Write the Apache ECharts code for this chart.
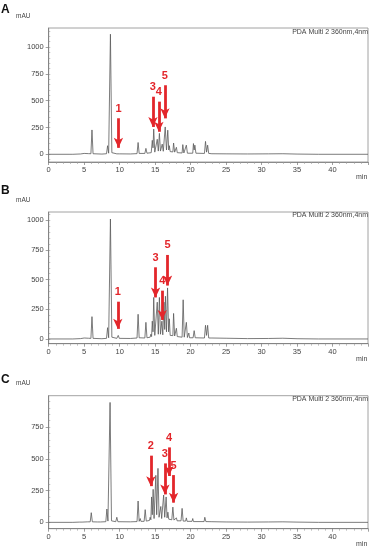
<!DOCTYPE html>
<html>
<head>
<meta charset="utf-8">
<script src="https://cdn.jsdelivr.net/npm/echarts@6/dist/echarts.min.js"></script>
<style>html,body{margin:0;padding:0;background:#fff}#chart{width:374px;height:550px}</style>
</head>
<body>
<div id="chart"></div>
<script>
// ---- data: chromatogram traces [time (min), signal (mAU)] ----
const traceA = [[0,0],[3.0,0],[3.2,10],[3.4,0],[4.5,3],[5.0,8],[5.6,6],[5.95,5],[6.1,227],[6.25,5],[7.5,2],[8.15,5],[8.3,80],[8.45,10],[8.55,15],[8.7,1120],[8.9,15],[9.6,4],[9.8,20],[9.95,4],[11.5,3],[12.45,6],[12.6,110],[12.75,8],[13.55,8],[13.7,55],[13.85,10],[14.45,15],[14.6,130],[14.7,60],[14.8,235],[14.95,20],[15.2,25],[15.3,140],[15.45,30],[15.6,195],[15.75,30],[15.9,28],[16.0,95],[16.15,28],[16.3,30],[16.42,255],[16.6,40],[16.78,225],[16.92,40],[17.0,80],[17.12,25],[17.5,22],[17.6,105],[17.75,20],[17.9,20],[18.0,65],[18.12,15],[18.8,12],[18.9,90],[19.05,12],[19.3,12],[19.4,85],[19.55,10],[20.3,10],[20.4,100],[20.5,40],[20.6,85],[20.75,10],[21.95,8],[22.1,120],[22.25,20],[22.4,85],[22.55,8],[23,5],[25,4],[28,3],[31,4],[33,5],[35,2],[38,0],[45,0]];
const traceB = [[0,0],[3.0,0],[3.2,8],[3.4,0],[4.5,3],[5.0,8],[5.6,6],[5.95,5],[6.1,188],[6.25,5],[7.5,2],[8.15,5],[8.3,95],[8.45,10],[8.55,15],[8.7,1011],[8.9,15],[9.6,5],[9.8,30],[9.95,5],[11.5,4],[12.45,8],[12.6,208],[12.75,10],[12.9,20],[13.0,8],[13.55,8],[13.7,140],[13.85,10],[14.3,15],[14.4,40],[14.5,20],[14.6,150],[14.7,60],[14.8,350],[14.95,30],[15.2,30],[15.3,310],[15.45,40],[15.6,350],[15.75,40],[15.85,40],[15.95,150],[16.08,35],[16.15,40],[16.25,310],[16.35,80],[16.45,360],[16.6,60],[16.75,430],[16.9,60],[17.0,170],[17.12,30],[17.5,28],[17.6,215],[17.75,25],[17.9,25],[18.0,90],[18.12,20],[18.8,15],[18.95,330],[19.1,15],[19.3,15],[19.4,140],[19.55,12],[19.65,12],[19.75,50],[19.85,10],[20.35,10],[20.5,70],[20.65,10],[21.95,8],[22.1,115],[22.25,30],[22.4,115],[22.55,8],[23,8],[25,6],[28,3],[31,4],[33,6],[35,2],[38,0],[45,0]];
const traceC = [[0,0],[3.0,0],[3.2,10],[3.4,0],[4.3,2],[4.5,8],[4.7,2],[5.5,4],[5.85,4],[6.0,76],[6.15,4],[6.9,3],[7.1,10],[7.3,3],[8.05,5],[8.2,105],[8.35,10],[8.5,15],[8.65,944],[8.85,12],[9.45,5],[9.6,40],[9.75,5],[11.5,4],[12.45,6],[12.6,168],[12.75,8],[12.9,30],[13.0,8],[13.45,8],[13.6,100],[13.75,10],[14.2,15],[14.3,40],[14.4,20],[14.5,200],[14.6,60],[14.72,260],[14.85,30],[14.95,35],[15.1,370],[15.22,60],[15.4,425],[15.55,40],[15.7,40],[15.8,125],[15.92,30],[16.05,35],[16.2,215],[16.35,40],[16.55,200],[16.68,35],[16.8,80],[16.92,25],[17.35,20],[17.5,120],[17.65,18],[17.9,15],[18.0,35],[18.1,12],[18.65,12],[18.8,110],[18.95,10],[19.3,10],[19.4,35],[19.5,8],[20.2,8],[20.3,30],[20.4,6],[21.9,6],[22.0,40],[22.15,6],[23,5],[25,3],[28,2],[31,3],[33,4],[35,2],[38,0],[45,0]];

// ---- arrows: time, start value (top), tip value, label ----
const arrowsA_t = [9.83, 14.69, 15.53, 16.38];
const arrowsA_top = [336, 537, 491, 644];
const arrowsA_tip = [60, 255, 210, 335];
const arrowsA_lbl = ['1', '3', '4', '5'];

const arrowsB_t = [9.74, 15.06, 16.0, 16.75];
const arrowsB_top = [314, 604, 407, 708];
const arrowsB_tip = [85, 350, 160, 450];
const arrowsB_lbl = ['1', '3', '4', '5'];

const arrowsC_t = [14.4, 16.38, 16.95, 17.6];
const arrowsC_top = [525, 464, 590, 372];
const arrowsC_tip = [285, 220, 365, 155];
const arrowsC_lbl = ['2', '3', '4', '5'];

// ---- axis settings ----
const yTicksA = [0, 250, 500, 750, 1000];
const yTicksB = [0, 250, 500, 750, 1000];
const yTicksC = [0, 250, 500, 750];
const yMinorA = [-50,0,50,100,150,200,250,300,350,400,450,500,550,600,650,700,750,800,850,900,950,1000,1050,1100,1150];
const yMinorB = [0,50,100,150,200,250,300,350,400,450,500,550,600,650,700,750,800,850,900,950,1000,1050];
const yMinorC = [0,50,100,150,200,250,300,350,400,450,500,550,600,650,700,750,800,850,900,950];
const yRanges = [[-72, 1178], [-40, 1070], [-50, 997]];
const xMin = 0, xMax = 45, xStep = 5;
const panelLetters = ['A', 'B', 'C'];
const detectorLabel = 'PDA Multi 2 360nm,4nm';

const FONT = '"Liberation Sans", Arial, sans-serif';
const grids = [
  {left: 48.7, top: 28, width: 319.3, height: 134},
  {left: 48.7, top: 212, width: 319.3, height: 131.7},
  {left: 48.7, top: 395.7, width: 319.3, height: 133}
];

const traces = [traceA, traceB, traceC];
const arrows = [
  [arrowsA_t, arrowsA_top, arrowsA_tip, arrowsA_lbl],
  [arrowsB_t, arrowsB_top, arrowsB_tip, arrowsB_lbl],
  [arrowsC_t, arrowsC_top, arrowsC_tip, arrowsC_lbl]
];
const yTicks = [yTicksA, yTicksB, yTicksC];
const yMinor = [yMinorA, yMinorB, yMinorC];

const option = {
  animation: false,
  backgroundColor: '#fff',
  grid: grids.map(g => Object.assign({show: true, borderColor: '#8a8a8a', borderWidth: 0.8, backgroundColor: 'transparent'}, g)),
  xAxis: grids.map((g, i) => ({
    type: 'value', gridIndex: i, min: xMin, max: xMax, interval: xStep,
    axisLine: {show: true, onZero: false, lineStyle: {color: '#777', width: 0.8}},
    axisTick: {show: true, length: 3, lineStyle: {color: '#777', width: 0.7}},
    minorTick: {show: true, splitNumber: 5, length: 2, lineStyle: {color: '#999', width: 0.6}},
    splitLine: {show: false},
    axisLabel: {fontSize: 7.5, color: '#444', fontFamily: FONT, margin: 4, showMaxLabel: false,
      formatter: v => (v >= xMax ? '' : String(v))},
    name: 'min', nameLocation: 'end', nameGap: -12,
    nameTextStyle: {fontSize: 7, color: '#444', fontFamily: FONT, verticalAlign: 'top', padding: [12, 0, 0, 0]}
  })),
  yAxis: [],
  series: [],
  graphic: []
};

grids.forEach((g, i) => {
  option.yAxis.push({
    type: 'value', gridIndex: i, min: yRanges[i][0], max: yRanges[i][1],
    axisLine: {show: true, onZero: false, lineStyle: {color: '#777', width: 0.8}},
    axisTick: {show: true, length: 3, customValues: yTicks[i], lineStyle: {color: '#777', width: 0.7}},
    axisLabel: {customValues: yTicks[i], fontSize: 7.5, color: '#444', fontFamily: FONT, margin: 5,
      formatter: v => String(v)},
    splitLine: {show: false}
  });
  option.yAxis.push({
    type: 'value', gridIndex: i, min: yRanges[i][0], max: yRanges[i][1],
    axisLine: {show: false},
    axisTick: {show: true, length: 1.6, customValues: yMinor[i], lineStyle: {color: '#999', width: 0.6}},
    axisLabel: {show: false},
    splitLine: {show: false}
  });
});

traces.forEach((tr, i) => {
  const [ts, tops, tips, lbls] = arrows[i];
  option.series.push({
    type: 'line', xAxisIndex: i, yAxisIndex: i * 2, data: tr,
    showSymbol: false, symbol: 'none',
    lineStyle: {color: '#5a5a5a', width: 0.8},
    z: 2,
    markLine: {
      silent: true, animation: false,
      symbol: ['none', 'arrow'], symbolSize: 10,
      lineStyle: {color: '#e3262b', width: 2.8, type: 'solid'},
      label: {show: true, position: 'start', distance: 4, color: '#e3262b', fontSize: 11, fontWeight: 'bold', fontFamily: FONT,
        formatter: p => p.name},
      data: ts.map((t, k) => [
        {name: lbls[k], coord: [t, tops[k]], symbol: 'none'},
        {coord: [t, tips[k]], symbol: 'arrow', symbolSize: [7, 10]}
      ])
    }
  });
});

const letterY = [10, 191, 380];
const mauY = [17, 201, 384];
const pdaY = [32.5, 216, 399.5];
for (let i = 0; i < 3; i++) {
  option.graphic.push({type: 'text', left: 1, top: letterY[i] - 6,
    style: {text: panelLetters[i], font: 'bold 12px ' + FONT, fill: '#111'}});
  option.graphic.push({type: 'text', left: 16, top: mauY[i] - 4,
    style: {text: 'mAU', font: '6.5px ' + FONT, fill: '#444'}});
  option.graphic.push({type: 'text', right: 6, top: pdaY[i] - 4,
    style: {text: detectorLabel, font: '7px ' + FONT, fill: '#444'}});
}

const chart = echarts.init(document.getElementById('chart'), null, {renderer: 'canvas'});
chart.setOption(option);
</script>
</body>
</html>
